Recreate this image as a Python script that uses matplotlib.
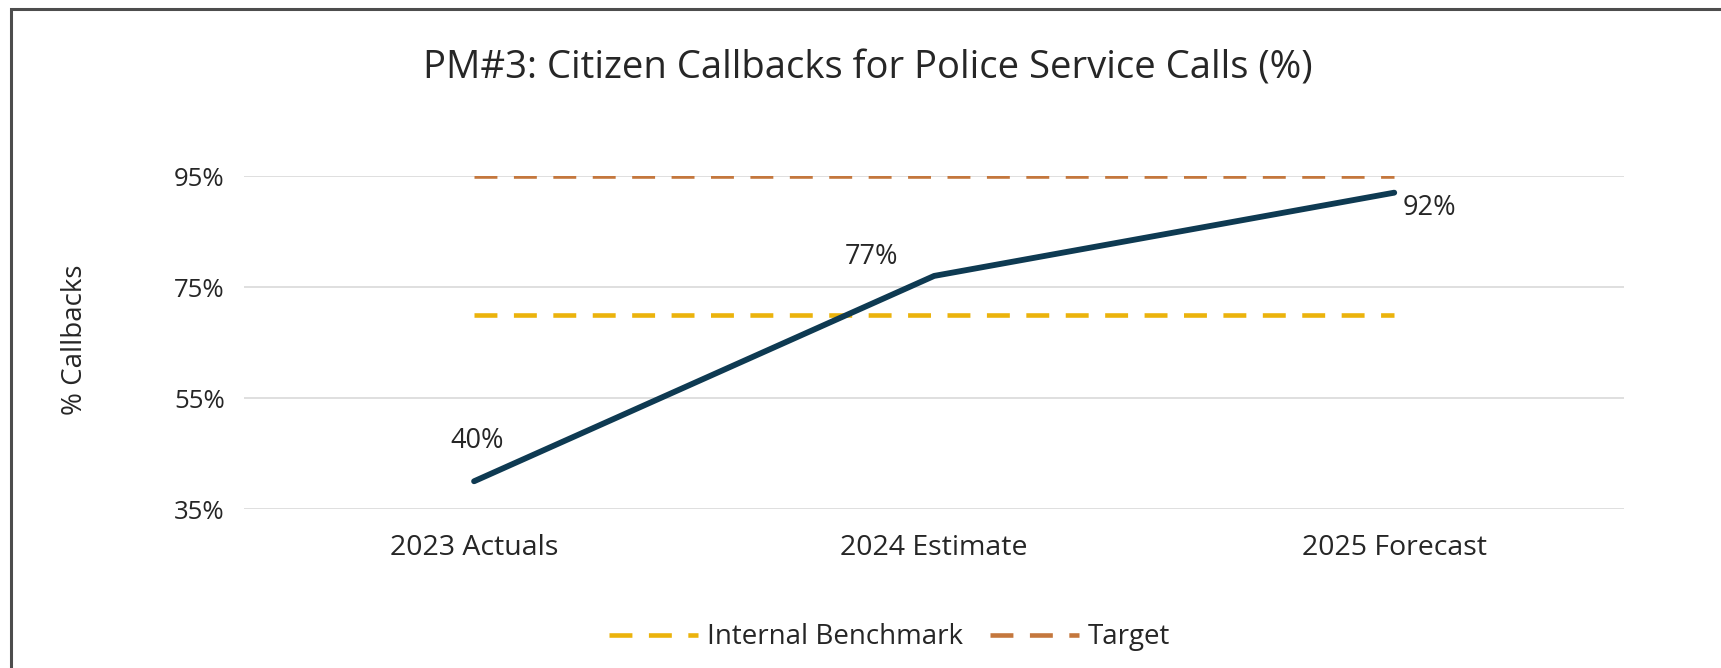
import matplotlib
matplotlib.use("Agg")
import matplotlib.pyplot as plt
from matplotlib.patches import Rectangle

categories = ["2023 Actuals", "2024 Estimate", "2025 Forecast"]
callbacks = [40, 77, 92]
benchmark = [70, 70, 70]
target = [95, 95, 95]
yticks = [35, 55, 75, 95]
label_offsets = [(3, 40), (-63, 19), (35, -15)]

plt.rcParams['font.family'] = ['Open Sans', 'DejaVu Sans']
TXT = '#262626'

fig = plt.figure(figsize=(17.21, 6.68), dpi=100)
ax = fig.add_axes([0.1418, 0.238, 0.802, 0.4985])

x = list(range(len(categories)))
ax.plot(x, benchmark, color='#EBB30C', lw=3.3, dashes=(5, 3.6), label='Internal Benchmark', zorder=2)
ax.plot(x, target, color='#C4773D', lw=3.3, dashes=(5, 3.6), label='Target', zorder=2)
ax.plot(x, callbacks, color='#0E3A52', lw=4.2, solid_capstyle='round', solid_joinstyle='round', zorder=3)

for xi, v, (dx, dy) in zip(x, callbacks, label_offsets):
    ax.annotate(f"{v}%", (xi, v), xytext=(dx, dy), textcoords='offset pixels',
                ha='center', va='center', fontsize=19.5, color=TXT)

ax.set_xlim(-0.5, 2.5)
ax.set_ylim(35, 95)
ax.set_yticks(yticks)
ax.set_yticklabels([f"{t}%" for t in yticks])
ax.set_xticks(x)
ax.set_xticklabels(categories)
ax.grid(axis='y', color='#d9d9d9', lw=1.2)
ax.set_axisbelow(True)
for s in ax.spines.values():
    s.set_visible(False)
ax.tick_params(axis='x', length=0, labelsize=20.5, colors=TXT, pad=18)
ax.tick_params(axis='y', length=0, labelsize=18.5, colors=TXT, pad=14)

fig.text(0.0435, 0.491, "% Callbacks", rotation=90, ha='center', va='center', fontsize=20, color=TXT)
fig.text(0.504, 0.898, "PM#3: Citizen Callbacks for Police Service Calls (%)", ha='center', va='center',
         fontsize=27.5, color=TXT)

handles, labels = ax.get_legend_handles_labels()
fig.legend(handles, labels, loc='center', bbox_to_anchor=(0.517, 0.046), ncol=2, frameon=False,
           fontsize=20, handlelength=3.2, handletextpad=0.3, columnspacing=1.0, labelcolor=TXT)

fig.add_artist(Rectangle((11/1721, -0.05), 1.2, 1.05 - 9/668, transform=fig.transFigure,
                         fill=False, edgecolor='#4d4d4d', lw=2.2))

fig.savefig("out.png", dpi=100)
